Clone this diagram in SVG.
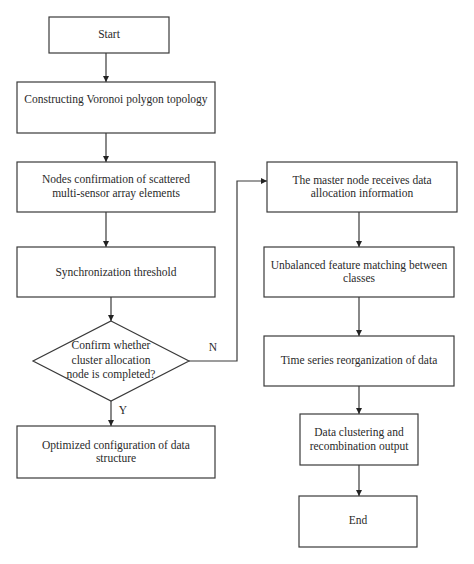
<svg xmlns="http://www.w3.org/2000/svg" width="474" height="564" viewBox="0 0 474 564">
<style>
.box{fill:#fff;stroke:#3a3a3a;stroke-width:1.2}
.t{font-family:"Liberation Serif","Times New Roman",serif;font-size:11.5px;fill:#2a2a2a;text-anchor:middle}
.c{fill:none;stroke:#3a3a3a;stroke-width:1.2}
</style>
<defs>
<marker id="ah" viewBox="0 0 10 10" refX="10" refY="5" markerWidth="6" markerHeight="6" orient="auto" markerUnits="userSpaceOnUse">
<path d="M0,0 L10,5 L0,10 z" fill="#222"/>
</marker>
</defs>
<rect width="474" height="564" fill="#fff"/>
<g id="connectors">
<line class="c" x1="106" y1="53" x2="106" y2="82" marker-end="url(#ah)"/>
<line class="c" x1="106" y1="133" x2="106" y2="162" marker-end="url(#ah)"/>
<line class="c" x1="106" y1="212" x2="106" y2="247" marker-end="url(#ah)"/>
<line class="c" x1="111" y1="297" x2="111" y2="321" marker-end="url(#ah)"/>
<line class="c" x1="111" y1="401" x2="111" y2="426" marker-end="url(#ah)"/>
<polyline class="c" points="189,361 237,361 237,181 267,181" marker-end="url(#ah)"/>
<line class="c" x1="359" y1="212" x2="359" y2="247" marker-end="url(#ah)"/>
<line class="c" x1="359" y1="297" x2="359" y2="336" marker-end="url(#ah)"/>
<line class="c" x1="359" y1="386" x2="359" y2="414" marker-end="url(#ah)"/>
<line class="c" x1="359" y1="465" x2="359" y2="496" marker-end="url(#ah)"/>
<text class="t" x="213" y="351">N</text>
<text class="t" x="123" y="414">Y</text>
</g>
<g id="start">
<rect class="box" x="49" y="17" width="120" height="36"/>
<text class="t" x="109" y="38">Start</text>
</g>
<g id="voronoi">
<rect class="box" x="17" y="82" width="198" height="51"/>
<text class="t" x="116" y="103">Constructing Voronoi polygon topology</text>
</g>
<g id="nodes">
<rect class="box" x="17" y="162" width="198" height="50"/>
<text class="t" x="116" y="183">Nodes confirmation of scattered</text>
<text class="t" x="116" y="197">multi-sensor array elements</text>
</g>
<g id="sync">
<rect class="box" x="17" y="247" width="198" height="50"/>
<text class="t" x="116" y="276">Synchronization threshold</text>
</g>
<g id="decision">
<polygon class="box" points="111,321 189,361 111,401 33,361"/>
<text class="t" x="111" y="349">Confirm whether</text>
<text class="t" x="111" y="364">cluster allocation</text>
<text class="t" x="111" y="378">node is completed?</text>
</g>
<g id="optimized">
<rect class="box" x="17" y="426" width="198" height="52"/>
<text class="t" x="116" y="449">Optimized configuration of data</text>
<text class="t" x="116" y="462">structure</text>
</g>
<g id="master">
<rect class="box" x="267" y="162" width="190" height="50"/>
<text class="t" x="362" y="184">The master node receives data</text>
<text class="t" x="362" y="197">allocation information</text>
</g>
<g id="unbalanced">
<rect class="box" x="264" y="247" width="190" height="50"/>
<text class="t" x="359" y="269">Unbalanced feature matching between</text>
<text class="t" x="359" y="282">classes</text>
</g>
<g id="timeseries">
<rect class="box" x="264" y="336" width="190" height="50"/>
<text class="t" x="359" y="364">Time series reorganization of data</text>
</g>
<g id="clustering">
<rect class="box" x="300" y="414" width="118" height="51"/>
<text class="t" x="359" y="436">Data clustering and</text>
<text class="t" x="359" y="450">recombination output</text>
</g>
<g id="end">
<rect class="box" x="299" y="496" width="118" height="51"/>
<text class="t" x="358" y="524">End</text>
</g>
</svg>
